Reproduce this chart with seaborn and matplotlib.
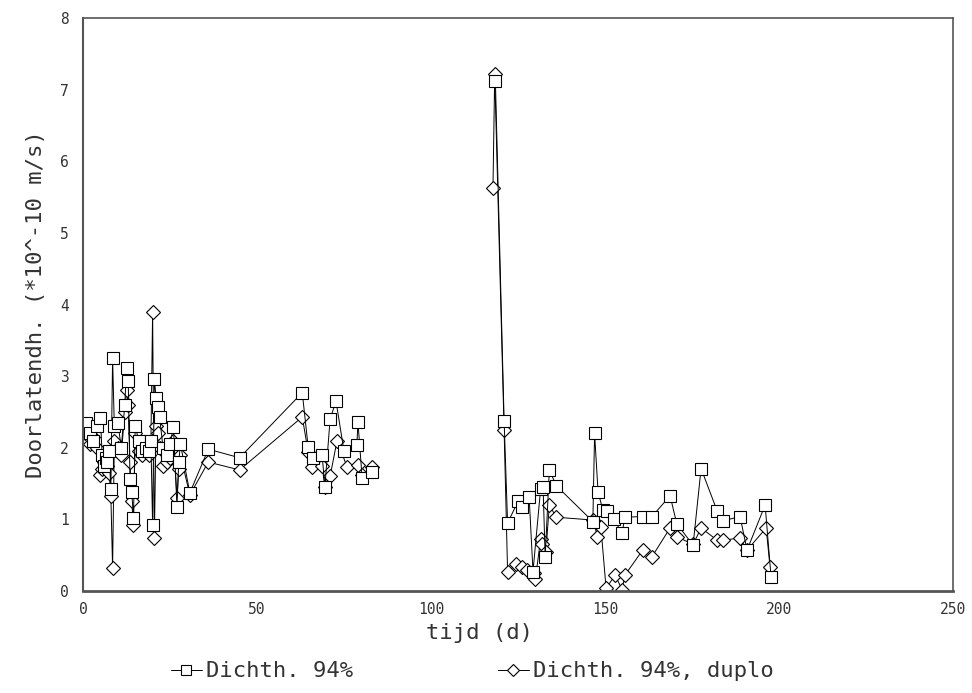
import numpy as np
import pandas as pd
import matplotlib
matplotlib.use("Agg")
import matplotlib.pyplot as plt
from matplotlib.lines import Line2D
import seaborn as sns

# ---- data ----
sq_x_a = [0.5, 1, 2, 3, 4, 5, 5.5, 6, 6.5, 7, 7.5, 8, 8.5, 9, 10, 11, 12, 12.5, 13, 13.5,
          14, 14.5, 15, 16, 17, 18, 19, 19.5, 20, 20.5, 21, 21.5, 22, 23, 24, 25, 26, 27,
          27.5, 28, 30.7, 36, 45, 63, 64.7, 66, 68.7, 69.5, 71, 72.7, 75, 78.7, 79, 80.2, 83]
sq_y_a = [2.33, 2.35, 2.2, 2.1, 2.3, 2.42, 1.9, 1.75, 1.85, 1.8, 1.95, 1.42, 3.25, 2.3, 2.35,
          2.0, 2.6, 3.11, 2.93, 1.56, 1.38, 1.02, 2.3, 2.1, 1.95, 2.0, 1.95, 2.1, 0.92, 2.96,
          2.7, 2.57, 2.43, 2.0, 1.9, 2.05, 2.29, 1.17, 1.8, 2.05, 1.37, 1.98, 1.86, 2.77,
          2.01, 1.85, 1.9, 1.45, 2.40, 2.65, 1.95, 2.04, 2.36, 1.58, 1.66]
sq_x_b = [118.5, 121, 122, 125, 126, 128.2, 129.3, 131.5, 132.2, 132.8, 134, 136, 146.5, 147,
          148, 149.4, 150.5, 152.5, 154.9, 155.7, 161, 163.5, 168.7, 170.6, 175.3, 177.6,
          182.2, 184, 188.8, 190.8, 196, 197.7]
sq_y_b = [7.12, 2.38, 0.95, 1.25, 1.17, 1.31, 0.27, 1.43, 1.45, 0.47, 1.69, 1.47, 0.97, 2.2,
          1.38, 1.13, 1.12, 1.0, 0.81, 1.03, 1.04, 1.04, 1.33, 0.94, 0.64, 1.71, 1.12, 0.98,
          1.04, 0.57, 1.2, 0.2]

di_x_a = [0.5, 1, 2, 3, 4, 5, 5.5, 6, 7, 7.5, 8, 8.5, 9, 10, 11, 12, 12.5, 13, 13.5, 14,
          14.5, 15, 16, 17, 18, 19, 19.5, 20, 20.5, 21, 21.5, 22, 23, 24, 25, 26, 27, 27.5,
          28, 30.7, 36, 45, 63, 64.7, 65.8, 68.7, 69.5, 71, 73, 75.9, 79, 80.2, 83]
di_y_a = [2.2, 2.3, 2.05, 2.15, 2.0, 1.62, 1.7, 1.8, 1.75, 1.65, 1.33, 0.32, 2.1, 2.0, 1.9,
          2.5, 2.8, 2.6, 1.8, 1.25, 0.92, 2.2, 1.95, 1.9, 1.95, 1.9, 2.05, 3.9, 0.74, 2.3,
          2.2, 2.0, 1.75, 1.8, 1.85, 2.1, 1.3, 1.7, 1.9, 1.34, 1.8, 1.69, 2.43, 1.94, 1.73,
          1.75, 1.45, 1.6, 2.1, 1.73, 1.76, 1.62, 1.73]
di_x_b = [117.8, 118.3, 121, 122, 124.5, 126, 127.5, 129.5, 130, 131.5, 132, 133, 134, 136,
          146.6, 147.8, 148.8, 150.3, 152.9, 154.9, 155.7, 160.8, 163.5, 168.7, 170.6, 175.3,
          177.6, 182.2, 184, 188.8, 190.8, 196.3, 197.4]
di_y_b = [5.63, 7.22, 2.25, 0.27, 0.37, 0.33, 0.3, 0.25, 0.17, 0.73, 0.65, 0.55, 1.2, 1.03,
          0.99, 0.76, 0.9, 0.04, 0.22, 0.02, 0.22, 0.57, 0.48, 0.88, 0.76, 0.65, 0.88, 0.71,
          0.71, 0.74, 0.57, 0.88, 0.34]

labels = ["Dichth. 94%", "Dichth. 94%, duplo"]
x_ticks = [0, 50, 100, 150, 200, 250]
y_ticks = [0, 1, 2, 3, 4, 5, 6, 7, 8]

def frame(xa, ya, xb, yb):
    return pd.DataFrame({
        "x": list(xa) + list(xb),
        "y": list(ya) + list(yb),
        "seg": [0] * len(xa) + [1] * len(xb),
    })

df_sq = frame(sq_x_a, sq_y_a, sq_x_b, sq_y_b)
df_di = frame(di_x_a, di_y_a, di_x_b, di_y_b)

sns.set_style("white")
plt.rcParams["font.family"] = ["DejaVu Sans Mono", "DejaVu Sans"]

fig = plt.figure(figsize=(9.72, 6.93), dpi=100)
ax = fig.add_axes([0.0854, 0.1472, 0.8951, 0.8268])

common = dict(x="x", y="y", units="seg", estimator=None, sort=False, color="black",
              linewidth=0.7, ax=ax, legend=False)
sns.lineplot(data=df_di, marker="D", markersize=7, markerfacecolor="white",
             markeredgecolor="black", markeredgewidth=0.8, **common)
sns.lineplot(data=df_sq, marker="s", markersize=8, markerfacecolor="white",
             markeredgecolor="black", markeredgewidth=0.8, **common)

ax.set_xlim(0, 250)
ax.set_ylim(0, 8)
ax.set_xticks(x_ticks)
ax.set_yticks(y_ticks)
ax.tick_params(axis="both", direction="in", colors="#444444", labelsize=10.5, labelcolor="#333333")
ax.tick_params(axis="y", length=11, width=1.2, pad=10)
ax.tick_params(axis="x", length=6, width=1.2, pad=8)
for s in ax.spines.values():
    s.set_color("#555555")
    s.set_linewidth(1.2)
ax.spines["bottom"].set_linewidth(2)
ax.spines["left"].set_linewidth(1.5)

ax.set_xlabel("tijd (d)", fontsize=16, color="#333333", labelpad=6)
ax.xaxis.set_label_coords(0.456, -0.055)
ax.set_ylabel("Doorlatendh. (*10^-10 m/s)", fontsize=16, color="#333333", labelpad=10)

handles = [
    Line2D([], [], color="black", lw=0.7, marker="s", markersize=7, markerfacecolor="white",
           markeredgecolor="black", markeredgewidth=0.8),
    Line2D([], [], color="black", lw=0.7, marker="D", markersize=6, markerfacecolor="white",
           markeredgecolor="black", markeredgewidth=0.8),
]
fig.legend(handles, labels, loc="lower center", bbox_to_anchor=(0.486, -0.012), ncol=2,
           frameon=False, fontsize=16, handlelength=1.4, handletextpad=0.2,
           columnspacing=6.5, labelcolor="#333333")

fig.savefig("out.png", dpi=100, facecolor="white")
